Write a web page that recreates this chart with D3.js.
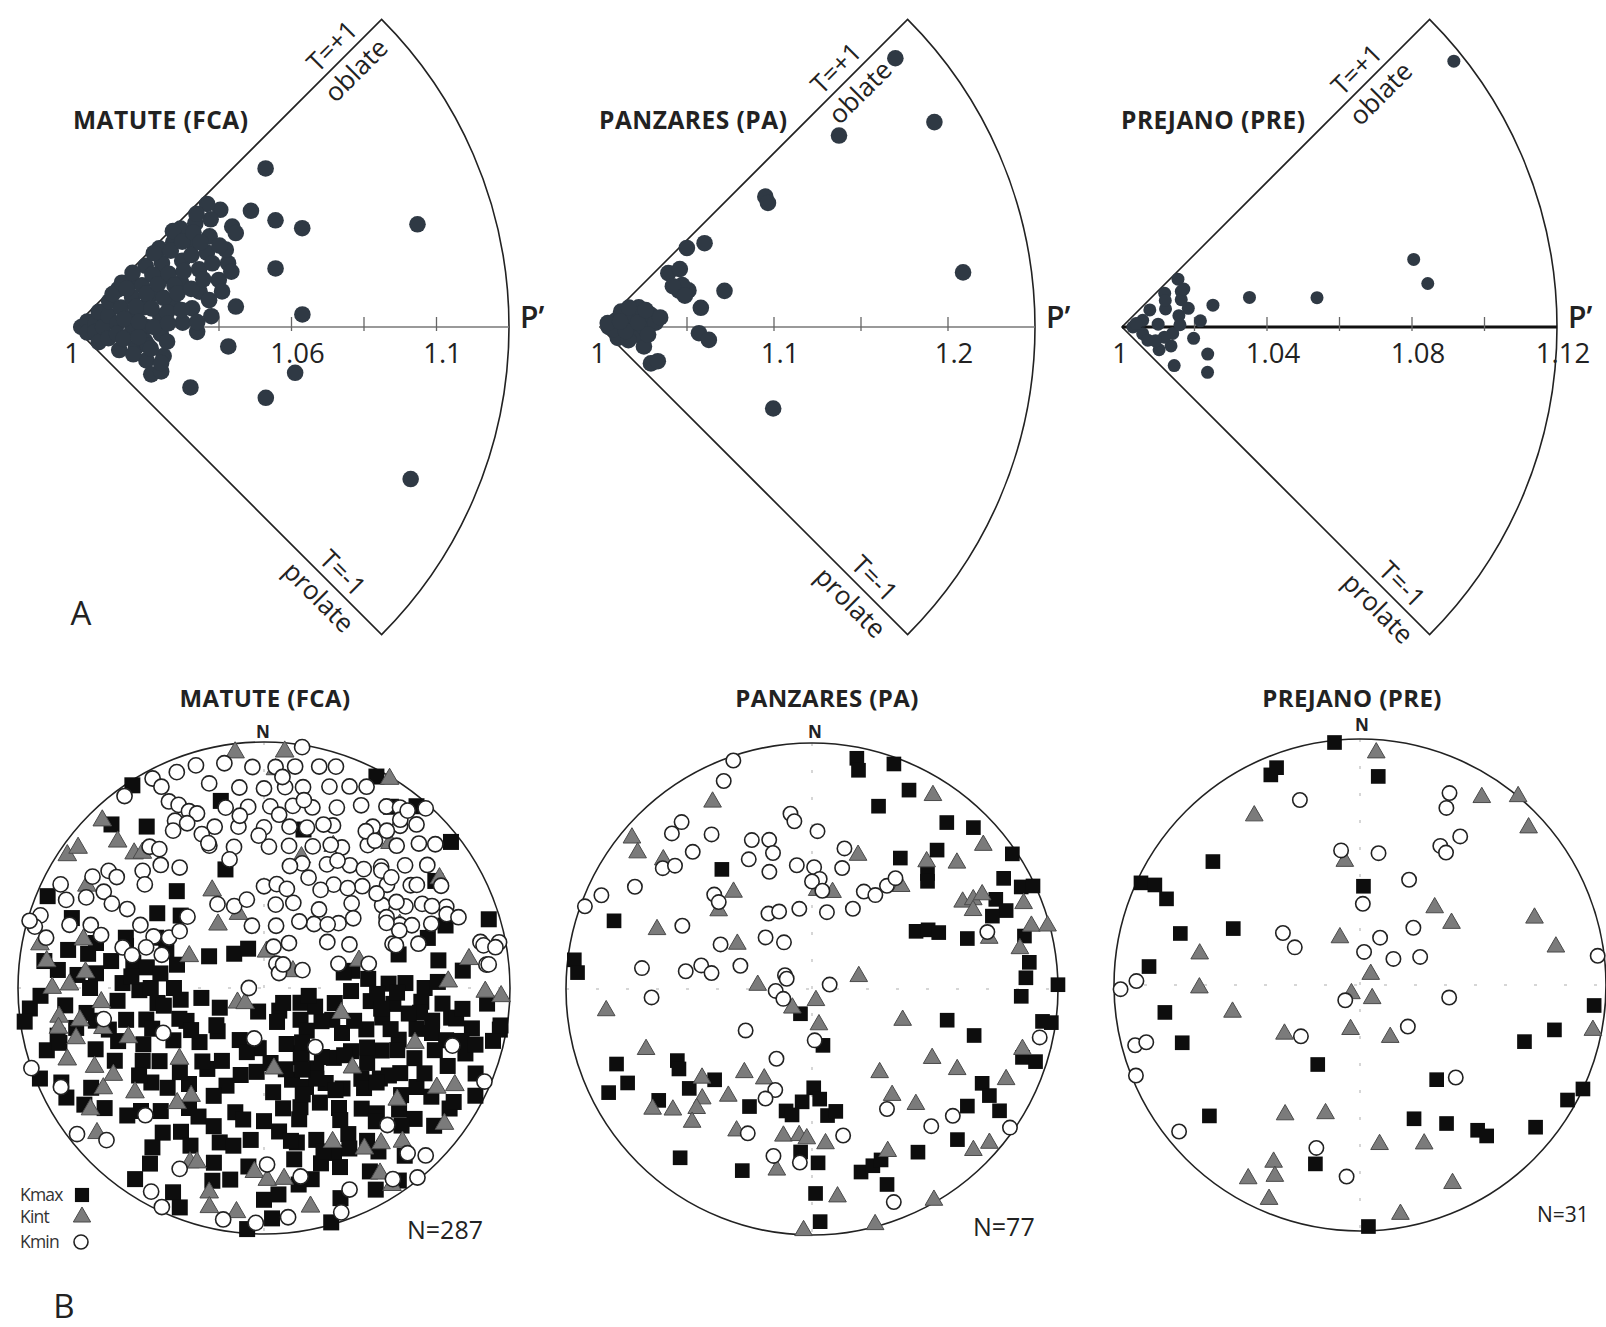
<!DOCTYPE html>
<html>
<head>
<meta charset="utf-8">
<script src="https://cdn.jsdelivr.net/npm/d3@7"></script>
<style>
  body { margin: 0; background: #fff; }
  svg { display: block; font-family: "Open Sans", sans-serif; }
</style>
</head>
<body>
<svg id="fig" width="1606" height="1327"></svg>
<script>
// ---- A: Jelinek plots (P' vs T) ----
const jelinekSites = ["MATUTE (FCA)", "PANZARES (PA)", "PREJANO (PRE)"];
const jelinekPmax = [1.12, 1.25, 1.12];
const jelinekTicks = [
  [1.02, 1.04, 1.06, 1.08, 1.1],
  [1.05, 1.1, 1.15, 1.2],
  [1.02, 1.04, 1.06, 1.08, 1.1]
];
const jelinekTickLabels = [
  ["1", "1.06", "1.1"],
  ["1", "1.1", "1.2"],
  ["1", "1.04", "1.08", "1.12"]
];

// [P', T]
const matuteJelinek = [
  [1.0686,0.88],[1.0584,0.74],[1.0629,0.62],[1.0686,0.52],[1.0989,0.37],[1.0579,0.36],[1.045,0.16],
  [1.0631,0.07],[1.0429,-0.16],[1.0362,-0.61],[1.0564,-0.45],[1.0623,-0.26],[1.1019,-0.54],
  [1.0517,0.86],[1.0517,0.72],
  [1.002,0],[1.004,0.5],[1.004,-0.5],[1.006,0.2],[1.006,-0.3],[1.008,0.7],[1.008,-0.7],[1.008,0],
  [1.01,0.4],[1.01,-0.4],[1.012,0.8],[1.012,0.1],[1.012,-0.2],[1.014,0.5],[1.014,-0.6],[1.016,0.9],
  [1.016,0.2],[1.016,-0.1],[1.018,0.6],[1.018,-0.4],[1.02,0.85],[1.02,0.35],[1.02,0],[1.02,-0.25],
  [1.021,-0.31],[1.022,-0.55],[1.022,0.7],[1.024,0.5],[1.024,0.15],[1.024,-0.1],[1.025,-0.7],
  [1.026,0.9],[1.026,-0.4],[1.027,-0.6],[1.028,0.65],[1.028,0.3],[1.03,0.05],[1.03,0.8],
  [1.032,0.95],[1.032,0.5],[1.033,0.2],[1.034,-0.05],[1.035,0.7],[1.036,0.9],[1.036,0.35],
  [1.038,0.55],[1.038,0.1],[1.04,0.8],[1.04,0.95],[1.04,0.82],[1.042,0.65],[1.042,0.4],[1.044,0.9],
  [1.045,0.75],[1.046,0.5],[1.046,0.43],[1.047,0.6],[1.048,0.85],[1.05,0.95],[1.0516,0.67],
  [1.014,0.9],[1.014,0.2],[1.014,-0.3],[1.018,0.95],[1.018,0.8],[1.018,0.4],[1.018,0.1],[1.018,-0.2],
  [1.018,-0.55],[1.022,0.95],[1.022,0.55],[1.022,0.3],[1.022,0],[1.022,-0.35],[1.026,0.75],
  [1.026,0.6],[1.026,0.4],[1.026,0.2],[1.026,0.05],[1.026,-0.2],[1.026,-0.5],[1.03,0.95],
  [1.03,0.65],[1.03,0.5],[1.03,0.4],[1.03,0.2],[1.034,0.85],[1.034,0.6],[1.034,0.4],[1.034,0.05],
  [1.038,0.98],[1.038,0.85],[1.038,0.7],[1.038,0.45],[1.038,0.25],[1.042,0.85],[1.042,0.75],
  [1.042,0.55],[1.042,0.3],[1.046,0.95],[1.046,0.65]
];
const panzaresJelinek = [
  [1.2295,0.94],[1.2254,0.70],[1.176,0.86],[1.121,0.85],[1.12,0.81],[1.211,0.19],[1.110,-0.56],
  [1.0745,0.36],[1.0675,0.94],[1.077,0.86],[1.050,0.85],[1.0567,0.80],[1.05,0.55],[1.055,0.5],
  [1.053,0.6],[1.048,0.65],[1.052,0.45],[1.059,0.24],[1.057,-0.08],[1.063,-0.15],[1.0276,-0.53],
  [1.036,-0.79],[1.0386,-0.68],
  [1.005,0],[1.01,0.5],[1.01,-0.4],[1.015,0.1],[1.015,0.8],[1.02,-0.3],[1.02,0.4],[1.025,0.6],
  [1.025,0],[1.03,0.3],[1.032,0.1],[1.028,-0.2],[1.02,0.75],[1.035,0.2],[1.012,-0.7],[1.018,-0.55],
  [1.008,0.2],[1.008,-0.2],[1.015,-0.2],[1.022,0.15],[1.028,0.45],[1.005,0.6],[1.012,0.35]
];
const prejanoJelinek = [
  [1.1173,0.86],[1.0826,0.29],[1.0852,0.18],[1.0544,0.19],[1.0361,0.29],[1.0258,0.30],[1.0217,0.10],
  [1.0248,-0.39],[1.0267,-0.62],[1.0179,-0.81],[1.0141,-0.16],[1.0203,0.90],[1.0191,0.69],[1.0145,-0.47],
  [1.003,0],[1.006,0.4],[1.006,-0.4],[1.009,0.7],[1.01,0.1],[1.012,-0.3],[1.013,0.5],[1.015,0.85],
  [1.016,0.25],[1.008,-0.6],[1.012,-0.7],[1.018,0.55],[1.02,-0.2],[1.016,0.05],[1.019,0.35],
  [1.004,0.3],[1.01,-0.5],[1.014,0.7],[1.02,0.7]
];

// ---- B: stereonets, [trend, plunge] in degrees ----
const stereoSites = ["MATUTE (FCA)", "PANZARES (PA)", "PREJANO (PRE)"];
const stereoN = [287, 77, 31];
const legendLabels = ["Kmax", "Kint", "Kmin"];

const matuteKmax = [
  [327,2],[317,10],[324,20],[293,5],[318,46],[347,23],[305,46],[14,34],[28,3],[35,11],[40,4],[52,4],
  [58,19],[71,23],[73,5],[73,31],[81,29],[76,43],[342,48],[311,53],
  [277,11],[281,20],[281,28],[280,37],[287,41],[281,45],[291,55],[300,69],[319,75],[338,76],[265,5],
  [275,17],[274,25],[275,32],[272,42],[269,48],[262,54],[262,62],[261,69],[246,74],[194,82],[146,81],
  [112,77],[102,66],[92,61],[97,54],[88,48],[97,46],[95,36],[101,31],[99,24],[94,10],[100,3],[101,15],
  [79,60],[79,63],
  [158,70],[152,64],[147,58],[135,57],[126,54],[126,47],[118,45],[111,41],[105,36],[105,30],[106,24],
  [108,15],[163,58],[157,54],[147,52],[142,47],[133,45],[128,40],[122,35],[123,27],[123,20],[171,49],
  [163,48],[154,47],[148,42],[141,37],[138,32],[132,27],[131,20],[174,41],[168,36],[161,35],[157,28],
  [162,26],[157,22],[166,21],[150,32],[146,26],[129,12],[123,11],[117,4],[103,5],[99,3],[99,22],[99,36],
  [104,49],[115,65],[131,74],[159,78],
  [262,2],[254,9],[248,2],[241,9],[237,14],[233,20],[244,33],[227,25],[239,42],[235,47],[224,43],
  [218,49],[207,41],[215,57],[201,55],[193,47],[189,45],[196,35],[191,35],[196,27],[190,22],[213,16],
  [214,7],[204,10],[201,5],[184,2],[178,7],[176,17],[164,1],[151,7],[145,5],[121,11],[215,29],[210,33],
  [212,42],[227,69],[205,71],[247,62],[255,49],[257,42],[259,31],[258,23],[257,15],
  [140,60],[130,55],[120,50],[112,53],[150,55],[160,52],[145,48],[135,42],[125,38],[115,33],[110,27],
  [118,27],[140,30],[150,38],[165,44],[170,37],[160,30],[152,27],[145,20],[135,22],[128,30],[115,40],
  [108,45],[100,40],[95,28],[120,60],[150,65],[165,62],[175,55],[180,45],[185,38],[170,30],[113,20],
  [105,18],[96,20],[90,35],[88,42],[85,55],[120,68],[135,70],
  [270,30],[265,40],[255,35],[250,28],[245,45],[260,56],[250,60],[270,60],[285,30],[290,40],[240,20],
  [230,40],[225,50],[220,35],[200,40],[205,50],[195,60],[185,62],[280,50],[275,45],[265,20],[268,10],
  [290,18],
  [175,65],[185,70],[195,68],[210,62],[220,58],[230,62],[240,55],[250,50],[235,38],[225,30],[215,22],
  [205,30],[195,20],[185,28],[180,15],[170,20],[160,10],[150,15],[140,12],[130,40],[155,60],[145,68],
  [110,58],[100,50],[92,45],[105,12],[112,8],[85,20],[88,30],[93,52],[278,55],[285,60],[295,50],
  [270,52],[262,28],[255,15],[245,10],[250,37],[240,62],[232,70],[128,82],[110,72],[100,75]
];
const matuteKint = [
  [316,6],[315,17],[316,25],[318,27],[304,4],[307,6],[300,18],[5,4],[353,4],[31,1],[332,53],[324,64],
  [341,64],[4,78],[60,79],[65,39],[58,17],[82,17],[88,26],[92,4],[91,11],[74,57],[241,80],[293,63],
  [281,8],[277,12],[271,22],[275,28],[262,17],[265,34],[259,16],[260,25],[256,33],[250,41],[250,16],
  [245,25],[238,24],[231,33],[229,11],[230,53],[214,46],[217,41],[203,24],[201,25],[195,15],[194,9],
  [187,9],[183,26],[179,23],[174,23],[168,10],[173,63],[108,63],[132,50],[148,24],[143,22],[138,17],
  [127,9],[117,14],[148,12],[147,5],[156,32],[231,82],[26,36],[41,23],[16,44],[3,12],
  [285,25],[270,15],[255,22],[240,30],[235,15],[120,20],[130,30],[110,35]
];
const matuteKmin = [
  [9,1],[357,11],[3,11],[8,10],[14,8],[18,6],
  [353,19],[0,20],[6,19],[11,18],[18,15],[23,12],[27,9],
  [348,26],[355,27],[2,27],[9,26],[15,25],[22,22],[28,17],[34,12],[37,9],
  [343,32],[351,34],[0,35],[9,34],[15,33],[23,29],[34,22],[40,15],[43,10],
  [339,38],[348,41],[2,42],[10,41],[19,39],[29,35],[36,29],[43,22],[47,15],[50,10],
  [17,46],[27,43],[35,39],[44,32],[49,25],[53,18],
  [34,48],[44,42],[50,35],[55,28],[60,18],
  [8,62],[19,60],[46,49],[55,41],[60,34],[62,28],[66,20],
  [349,69],[11,69],[38,63],[49,57],[65,39],[67,35],[69,28],
  [29,73],[54,64],[63,58],[71,44],[74,35],[78,11],[79,3],
  [27,81],[72,64],[77,54],[84,10],
  [332,4],[338,6],[343,6],[333,9],[324,4],[333,16],[335,19],[337,23],[339,25],[332,24],[335,27],
  [338,33],[330,27],[339,37],[321,27],[323,30],
  [303,18],[307,22],[307,26],[301,25],[299,30],[300,36],[297,43],[295,49],[298,54],[304,56],[313,55],
  [297,20],[294,13],[297,8],[288,5],[285,4],[283,10],[288,18],[290,26],[288,31],[286,40],[284,44],
  [289,48],[288,54],[314,32],[311,36],
  [331,58],[340,61],[349,60],[0,56],[7,55],[13,56],[13,76],[45,83],[270,85],[39,80],[65,76],
  [33,25],[37,26],[38,20],[39,13],[39,8],[42,2],[45,33],[49,32],[56,26],[64,25],[68,21],[70,17],
  [60,42],[67,40],[72,43],[79,10],[80,5],[84,9],
  [251,0],[244,9],[232,4],[226,12],[223,30],[209,6],[205,2],[205,20],[190,5],[182,5],[174,7],[179,29],
  [169,23],[157,12],[161,4],[139,12],[136,6],[141,1],[146,7],[113,3],[107,21],[138,26],[191,73],
  [259,34],[246,53],[139,64],[286,1],
  [5,15],[12,23],[20,30],[25,36],[30,40],[40,37],[5,30],[358,38],[352,30],[345,45],[12,48],[22,50],
  [30,52],[40,46],[50,40],[57,36],[62,43],[28,65],[35,58],[45,60],[52,52],[325,40],[320,35],[345,15],
  [350,8]
];

const panzaresKmax = [
  [11,5],[12,10],[20,3],[26,11],[20,22],[39,14],[45,8],[42,25],[56,2],[34,36],[45,34],[47,36],[323,39],
  [289,16],[60,11],[64,6],[65,1],[64,18],[68,16],[68,22],[61,50],[63,46],[66,43],[72,34],[76,12],
  [83,12],[87,14],[92,16],[89,0],[277,3],[274,5],[103,43],[106,32],[98,6],[98,2],[205,81],[169,71],
  [249,16],[243,17],[243,8],[242,38],[239,37],[231,36],[227,45],[234,24],[208,45],[192,48],[189,47],
  [185,52],[179,57],[176,53],[173,47],[169,48],[184,34],[178,30],[218,14],[201,22],[179,18],[178,6],
  [165,24],[161,25],[158,26],[159,16],[147,22],[127,22],[119,22],[121,17],[123,10],[136,16],[108,11],
  [108,5]
];
const panzaresKint = [
  [332,15],[310,5],[308,11],[311,21],[321,48],[310,49],[291,33],[301,61],[19,42],[32,8],[50,10],
  [49,23],[42,31],[41,44],[12,57],[3,57],[60,30],[61,26],[61,22],[64,28],[68,8],[74,8],[75,1],[74,26],
  [79,15],[75,74],[274,72],[161,86],[226,81],[169,78],[264,17],[109,58],
  [250,29],[231,42],[225,37],[224,33],[222,28],[233,20],[229,26],[218,44],[219,54],[208,56],[208,35],
  [191,39],[185,40],[182,39],[175,37],[191,26],[173,16],[182,2],[165,1],[155,28],[138,37],[120,43],
  [119,33],[141,54],[143,45],[135,8],[131,5],[115,14],[150,1],[106,12]
];
const panzaresKmin = [
  [341,2],[337,9],[290,2],[294,7],[300,18],[322,15],[318,16],[327,26],[319,27],[309,23],[312,26],
  [338,35],[344,37],[344,42],[334,41],[340,48],[353,29],[354,32],[2,36],[13,41],[353,48],[1,49],[4,53],
  [14,48],[0,54],[6,57],[28,53],[34,52],[36,47],[37,43],[27,60],[11,64],[351,63],[330,61],[337,62],
  [318,67],[329,72],[314,44],[313,47],[296,41],[296,56],[288,65],[282,52],[278,47],[279,56],[277,31],
  [267,35],[297,80],[292,81],[267,78],[251,80],[76,84],[238,64],[177,73],[102,6],[72,26],
  [207,64],[200,54],[203,50],[204,36],[193,31],[184,30],[168,39],[148,42],[139,27],[132,24],[159,8],
  [125,2]
];

const prejanoKmax = [
  [354,1],[337,8],[339,6],[5,16],[310,23],[295,2],[296,8],[294,15],[286,25],[294,43],[275,15],[2,57],
  [262,21],[252,25],[95,5],[103,20],[109,30],
  [208,60],[141,49],[158,41],[148,34],[141,25],[140,21],[129,9],[119,4],[115,0],[229,20],[194,26],[178,2]
];
const prejanoKint = [
  [4,6],[328,20],[33,10],[40,0],[47,7],[353,48],[44,54],[56,53],[337,73],[69,25],[79,20],[281,34],
  [45,85],[269,35],[225,86],[138,84],[258,46],[237,60],[192,75],[150,70],[101,4],
  [210,39],[195,45],[173,35],[158,31],[206,21],[204,16],[210,10],[203,6],[170,6],[155,12]
];
const prejanoKmin = [
  [342,22],[25,15],[26,21],[34,28],[30,35],[33,36],[352,44],[8,45],[25,51],[2,63],[23,73],[43,64],
  [304,59],[300,65],[7,79],[52,76],[65,68],[269,3],[271,10],[98,60],[224,83],[229,64],[131,69],[83,3],
  [255,6],[255,11],[248,2],[231,6],[195,32],[184,23],[134,45]
];

function init() {
  const svg = d3.select("#fig");

  // ---------- Jelinek plots ----------
  const R = 435, apexY = 327;
  const apexX = [74, 600, 1122];
  const dotR = [8.3, 8.3, 6.5];
  const jelData = [matuteJelinek, panzaresJelinek, prejanoJelinek];
  const topAlong = [381, 350, 348];
  const botAlong = [364, 372, 380];

  jelinekSites.forEach((site, i) => {
    const g = svg.append("g").attr("transform", `translate(${apexX[i]},${apexY})`);
    const rScale = d3.scaleLinear().domain([1, jelinekPmax[i]]).range([0, R]);
    const aScale = d3.scaleLinear().domain([-1, 1]).range([-Math.PI / 4, Math.PI / 4]);

    // wedge outline
    g.append("path")
      .attr("d", d3.arc()({ innerRadius: 0, outerRadius: R, startAngle: Math.PI / 4, endAngle: 3 * Math.PI / 4 }))
      .attr("fill", "none")
      .attr("stroke", "#222")
      .attr("stroke-width", 1.6);

    // P' axis
    g.append("line")
      .attr("x1", 0).attr("x2", R).attr("y1", 0).attr("y2", 0)
      .attr("stroke", i === 2 ? "#111" : "#777")
      .attr("stroke-width", i === 2 ? 3 : 1.3);

    g.selectAll(".tick")
      .data(jelinekTicks[i])
      .join("line")
      .attr("class", "tick")
      .attr("x1", d => rScale(d)).attr("x2", d => rScale(d))
      .attr("y1", -10).attr("y2", 4)
      .attr("stroke", "#666")
      .attr("stroke-width", 1.3);

    g.selectAll(".tlabel")
      .data(jelinekTickLabels[i])
      .join("text")
      .attr("class", "tlabel")
      .attr("x", d => rScale(+d) + (d === "1" ? -2 : 6))
      .attr("y", 36)
      .attr("text-anchor", "middle")
      .attr("font-size", 27.5)
      .attr("fill", "#222")
      .text(d => d);

    g.append("text")
      .attr("x", R + 11).attr("y", 1)
      .attr("font-size", 30)
      .attr("font-weight", 600)
      .attr("fill", "#222")
      .text("P\u2019");

    // title
    g.append("text")
      .attr("x", -1).attr("y", -198)
      .attr("font-size", 24.5)
      .attr("font-weight", "bold")
      .attr("letter-spacing", 0.5)
      .attr("fill", "#222")
      .text(site);

    // edge labels
    const c = Math.SQRT1_2;
    const off = 17;
    const edge = [
      { s: topAlong[i], n: [-c, -c], o: off, rot: -45, dir: -1, txt: "T=+1" },
      { s: topAlong[i], n: [-c, -c], o: -off, rot: -45, dir: -1, txt: "oblate" },
      { s: botAlong[i], n: [c, -c], o: off, rot: 45, dir: 1, txt: "T=-1" },
      { s: botAlong[i], n: [c, -c], o: -off, rot: 45, dir: 1, txt: "prolate" }
    ];
    edge.forEach(e => {
      const x = e.s * c + e.n[0] * e.o;
      const y = e.dir * e.s * c + e.n[1] * e.o;
      g.append("text")
        .attr("transform", `translate(${x},${y}) rotate(${e.rot})`)
        .attr("text-anchor", "middle")
        .attr("dominant-baseline", "central")
        .attr("font-size", 26)
        .attr("fill", "#222")
        .text(e.txt);
    });

    // data points
    g.selectAll(".dot")
      .data(jelData[i])
      .join("circle")
      .attr("class", "dot")
      .attr("cx", d => rScale(d[0]) * Math.cos(aScale(d[1])))
      .attr("cy", d => -rScale(d[0]) * Math.sin(aScale(d[1])))
      .attr("r", dotR[i])
      .attr("fill", "#2f3944");
  });

  svg.append("text")
    .attr("x", 81).attr("y", 625)
    .attr("text-anchor", "middle")
    .attr("font-size", 33)
    .attr("fill", "#222")
    .text("A");

  // ---------- stereonets (equal area, lower hemisphere) ----------
  const netR = 246;
  const netCx = [264, 812, 1360];
  const netCy = [988, 989, 985];
  const titleX = [265, 827, 1352];
  const nX = [263, 815, 1362];
  const nY = [738, 738, 731];
  const countX = [407, 973, 1537];
  const countY = [1239, 1236, 1222];
  const countSize = [25, 25, 21];
  const sqSize = [256, 215, 215];
  const triSize = [150, 135, 135];
  const circR = [7.6, 7.2, 7.2];
  const kmaxSets = [matuteKmax, panzaresKmax, prejanoKmax];
  const kintSets = [matuteKint, panzaresKint, prejanoKint];
  const kminSets = [matuteKmin, panzaresKmin, prejanoKmin];

  stereoSites.forEach((site, i) => {
    const proj = d3.geoAzimuthalEqualArea()
      .rotate([0, -90])
      .scale(netR / Math.SQRT2)
      .translate([netCx[i], netCy[i]]);
    const pos = d => proj([180 - d[0], d[1]]);
    const square = d3.symbol().type(d3.symbolSquare).size(sqSize[i]);
    const triangle = d3.symbol().type(d3.symbolTriangle).size(triSize[i]);
    const g = svg.append("g");

    // faint reference cross
    g.append("line")
      .attr("x1", netCx[i] - netR).attr("x2", netCx[i] + netR)
      .attr("y1", netCy[i]).attr("y2", netCy[i])
      .attr("stroke", "#d6d6d6").attr("stroke-width", 2)
      .attr("stroke-dasharray", "3,27");
    g.append("line")
      .attr("x1", netCx[i]).attr("x2", netCx[i])
      .attr("y1", netCy[i] - netR).attr("y2", netCy[i] + netR)
      .attr("stroke", "#d6d6d6").attr("stroke-width", 2)
      .attr("stroke-dasharray", "3,24");

    g.append("circle")
      .attr("cx", netCx[i]).attr("cy", netCy[i]).attr("r", netR)
      .attr("fill", "none")
      .attr("stroke", "#222")
      .attr("stroke-width", 1.6);

    g.selectAll(".kmax")
      .data(kmaxSets[i])
      .join("path")
      .attr("class", "kmax")
      .attr("d", square)
      .attr("transform", d => { const p = pos(d); return `translate(${p[0]},${p[1]})`; })
      .attr("fill", "#0d0d0d");

    g.selectAll(".kint")
      .data(kintSets[i])
      .join("path")
      .attr("class", "kint")
      .attr("d", triangle)
      .attr("transform", d => { const p = pos(d); return `translate(${p[0]},${p[1]})`; })
      .attr("fill", "#7b7b7b")
      .attr("stroke", "#4a4a4a")
      .attr("stroke-width", 1);

    g.selectAll(".kmin")
      .data(kminSets[i])
      .join("circle")
      .attr("class", "kmin")
      .attr("cx", d => pos(d)[0])
      .attr("cy", d => pos(d)[1])
      .attr("r", circR[i])
      .attr("fill", "#fff")
      .attr("stroke", "#222")
      .attr("stroke-width", 1.6);

    svg.append("text")
      .attr("x", titleX[i]).attr("y", 707)
      .attr("text-anchor", "middle")
      .attr("font-size", 24)
      .attr("font-weight", "bold")
      .attr("letter-spacing", 0.4)
      .attr("fill", "#222")
      .text(site);

    svg.append("text")
      .attr("x", nX[i]).attr("y", nY[i])
      .attr("text-anchor", "middle")
      .attr("font-size", 17)
      .attr("font-weight", "bold")
      .attr("fill", "#222")
      .text("N");

    svg.append("text")
      .attr("x", countX[i]).attr("y", countY[i])
      .attr("font-size", countSize[i])
      .attr("fill", "#222")
      .text("N=" + stereoN[i]);
  });

  // legend
  const leg = svg.append("g");
  const legY = [1195, 1217, 1242];
  const legSquare = d3.symbol().type(d3.symbolSquare).size(200);
  const legTriangle = d3.symbol().type(d3.symbolTriangle).size(130);
  legendLabels.forEach((lab, k) => {
    leg.append("text")
      .attr("x", 20).attr("y", legY[k] + 6)
      .attr("font-size", 17.5)
      .attr("letter-spacing", -0.8)
      .attr("fill", "#333")
      .text(lab);
  });
  leg.append("path").attr("d", legSquare).attr("transform", `translate(82,${legY[0]})`).attr("fill", "#0d0d0d");
  leg.append("path").attr("d", legTriangle).attr("transform", `translate(82,${legY[1]})`)
    .attr("fill", "#7b7b7b").attr("stroke", "#4a4a4a");
  leg.append("circle").attr("cx", 81).attr("cy", legY[2]).attr("r", 7)
    .attr("fill", "#fff").attr("stroke", "#222").attr("stroke-width", 1.6);

  svg.append("text")
    .attr("x", 64).attr("y", 1318)
    .attr("text-anchor", "middle")
    .attr("font-size", 33)
    .attr("fill", "#222")
    .text("B");
}

window.onload = init;
</script>
</body>
</html>
